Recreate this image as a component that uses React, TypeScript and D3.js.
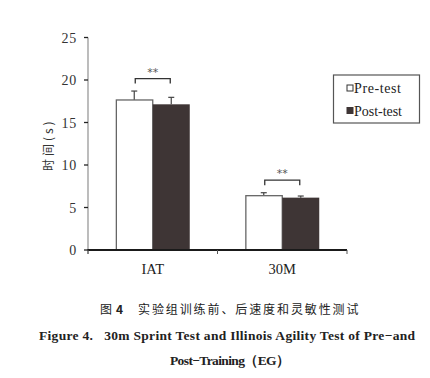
import React from "react";
import * as d3 from "d3";

const categories = ["IAT", "30M"];
const seriesNames = ["Pre-test", "Post-test"];
const preValues = [17.65, 6.39];
const postValues = [17.14, 6.16];
const preErrors = [1.05, 0.35];
const postErrors = [0.82, 0.19];
const yTicks = [0, 5, 10, 15, 20, 25];
const significance = ["**", "**"];

export default function App() {
  const W = 430, H = 378;
  const x0 = 88, x1 = 347, yTop = 37.5, yBot = 250;
  const y = d3.scaleLinear().domain([0, 25]).range([yBot, yTop]);
  const xb = d3.scaleBand().domain(categories).range([x0, x1]).paddingInner(0).paddingOuter(0);
  const xs = d3.scaleBand().domain(seriesNames).range([0, 74]);
  const dark = "#3e3535";
  const serif = "'Liberation Serif', 'DejaVu Serif', serif";
  const cjk = "'Noto Sans CJK SC', sans-serif";
  return (
    <div style={{ position: "absolute", left: 0, top: 0 }}>
      <svg width={W} height={H} style={{ display: "block", background: "#fff" }}>
        {/* y axis */}
        <line x1={x0} x2={x0} y1={yTop} y2={yBot + 4} stroke="#999" strokeWidth={1.3} />
        {yTicks.map((t) => (
          <g key={t}>
            <line x1={x0 - 4} x2={x0} y1={y(t)} y2={y(t)} stroke="#222" strokeWidth={1.3} />
            <text x={77} y={y(t) + 5} textAnchor="end" fontFamily={serif} fontSize={14} fill="#333" letterSpacing={0.8}>
              {t}
            </text>
          </g>
        ))}
        <text
          transform={`translate(53,${(yTop + yBot) / 2 + 1}) rotate(-90)`}
          textAnchor="middle"
          fontFamily={cjk}
          fontSize={12}
          fill="#333"
          letterSpacing={3}
        >
          时间(s)
        </text>
        {/* bars */}
        {categories.map((c, i) => {
          const cx = (xb(c) as number) + xb.bandwidth() / 2;
          const left = cx - 37;
          const preX = left + (xs("Pre-test") as number);
          const postX = left + (xs("Post-test") as number);
          const bw = xs.bandwidth();
          const preTop = y(preValues[i]);
          const postTop = y(postValues[i]);
          const preErr = y(preValues[i] + preErrors[i]);
          const postErr = y(postValues[i] + postErrors[i]);
          const brY = Math.min(preErr, postErr) - 12.5;
          return (
            <g key={c}>
              <line x1={preX + bw / 2} x2={preX + bw / 2} y1={preTop} y2={preErr} stroke="#444" strokeWidth={1.2} />
              <line x1={preX + bw / 2 - 3} x2={preX + bw / 2 + 3} y1={preErr} y2={preErr} stroke="#444" strokeWidth={1.2} />
              <line x1={postX + bw / 2} x2={postX + bw / 2} y1={postTop} y2={postErr} stroke="#444" strokeWidth={1.2} />
              <line x1={postX + bw / 2 - 3} x2={postX + bw / 2 + 3} y1={postErr} y2={postErr} stroke="#444" strokeWidth={1.2} />
              <rect x={preX + 0.6} y={preTop} width={bw - 0.6} height={yBot - preTop} fill="#fff" stroke="#666" strokeWidth={1.3} />
              <rect x={postX} y={postTop} width={bw} height={yBot - postTop} fill={dark} />
              <path
                d={`M${cx - 17.5},${brY + 5} V${brY} H${cx + 17.5} V${brY + 5}`}
                fill="none"
                stroke="#333"
                strokeWidth={1.3}
              />
              <text x={cx} y={brY - 3} textAnchor="middle" fontFamily="'DejaVu Sans', sans-serif" fontSize={11} fill="#555">
                {significance[i]}
              </text>
              <text x={cx} y={274} textAnchor="middle" fontFamily={serif} fontSize={14.5} fill="#222">
                {c}
              </text>
            </g>
          );
        })}
        {/* x axis */}
        <line x1={x0 - 0.5} x2={x1} y1={yBot} y2={yBot} stroke="#1a1a1a" strokeWidth={2} />
        {[x0, x0 + xb.bandwidth(), x1].map((t, i) => (
          <line key={i} x1={t} x2={t} y1={yBot} y2={yBot + 4} stroke="#555" strokeWidth={1} />
        ))}
        {/* legend */}
        <rect x={333.5} y={75} width={86} height={48} fill="#fff" stroke="#555" strokeWidth={1.2} />
        <rect x={347} y={85} width={6} height={6} fill="#fff" stroke="#333" strokeWidth={1} />
        <text x={354} y={93} fontFamily={serif} fontSize={14} fill="#222" textLength={47}>Pre-test</text>
        <rect x={346.5} y={107} width={7} height={7} fill={dark} />
        <text x={354} y={115.5} fontFamily={serif} fontSize={14} fill="#222" textLength={48}>Post-test</text>
        {/* caption */}
        <text x={100} y={314} fontFamily={cjk} fontSize={12} fill="#222">图</text>
        <text x={116} y={314} fontFamily={cjk} fontSize={12} fontWeight="bold" fill="#222">4</text>
        <text x={138} y={314} fontFamily={cjk} fontSize={12} fill="#222" letterSpacing={1.9}>
          实验组训练前、后速度和灵敏性测试
        </text>
        <text x={39} y={339.5} fontFamily={serif} fontWeight="bold" fontSize={13.5} fill="#222" textLength={376} xmlSpace="preserve">
          {"Figure 4.   30m Sprint Test and Illinois Agility Test of Pre\u2212and"}
        </text>
        <text x={170} y={364.5} fontFamily={serif} fontWeight="bold" fontSize={13.5} fill="#222" textLength={120}>
          {"Post\u2212Training\uFF08EG\uFF09"}
        </text>
      </svg>
    </div>
  );
}
